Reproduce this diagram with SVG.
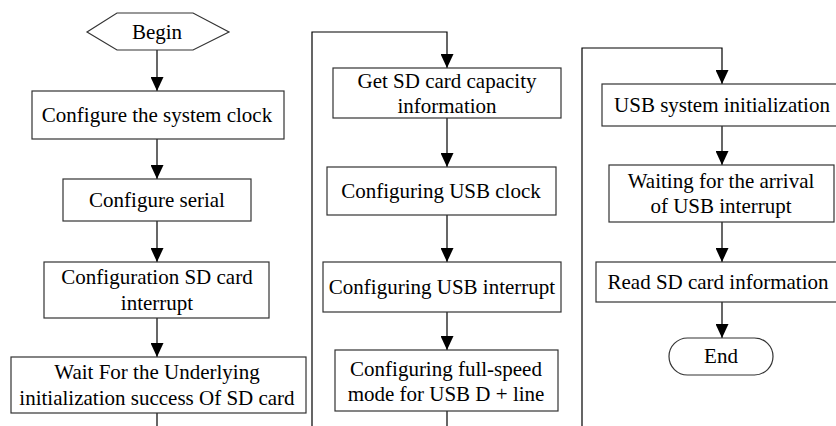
<svg xmlns="http://www.w3.org/2000/svg" width="836" height="426" viewBox="0 0 836 426">
<defs>
<marker id="ah" markerUnits="userSpaceOnUse" viewBox="0 0 14 13" refX="14" refY="6.5" markerWidth="14" markerHeight="13" orient="auto">
<path d="M0,0 L14,6.5 L0,13 z" fill="#000"/>
</marker>
<style>
.box{fill:#fff;stroke:#333;stroke-width:1.2}
.t{font-family:'Liberation Serif',Tinos,'Times New Roman',Times,'DejaVu Serif',serif;font-size:21px;fill:#000;text-anchor:middle}
.c{fill:none;stroke:#000;stroke-width:1.2}
</style>
</defs>
<rect width="836" height="426" fill="#fff"/>
<g id="connectors">
<line class="c" x1="157" y1="50" x2="157" y2="91" marker-end="url(#ah)"/>
<line class="c" x1="157" y1="139" x2="157" y2="179" marker-end="url(#ah)"/>
<line class="c" x1="157" y1="221" x2="157" y2="262" marker-end="url(#ah)"/>
<line class="c" x1="157" y1="318" x2="157" y2="357" marker-end="url(#ah)"/>
<line class="c" x1="157" y1="413" x2="157" y2="427"/>
<polyline class="c" points="312,427 312,32 447,32 447,68" marker-end="url(#ah)"/>
<line class="c" x1="447" y1="118" x2="447" y2="167" marker-end="url(#ah)"/>
<line class="c" x1="447" y1="215" x2="447" y2="262" marker-end="url(#ah)"/>
<line class="c" x1="447" y1="312" x2="447" y2="350" marker-end="url(#ah)"/>
<line class="c" x1="447" y1="411" x2="447" y2="427"/>
<polyline class="c" points="582,427 582,48 722,48 722,84" marker-end="url(#ah)"/>
<line class="c" x1="722" y1="126" x2="722" y2="165" marker-end="url(#ah)"/>
<line class="c" x1="722" y1="222" x2="722" y2="262" marker-end="url(#ah)"/>
<line class="c" x1="722" y1="302" x2="722" y2="338" marker-end="url(#ah)"/>
</g>
<g id="begin">
<polygon class="box" points="87,32 117,13 193,13 229,32 193,50 117,50"/>
<text class="t" x="157" y="39">Begin</text>
</g>
<g id="sysclock">
<rect class="box" x="32" y="91" width="252" height="48"/>
<text class="t" x="157" y="122">Configure the system clock</text>
</g>
<g id="serial">
<rect class="box" x="63" y="179" width="188" height="42"/>
<text class="t" x="157" y="207">Configure serial</text>
</g>
<g id="sdint">
<rect class="box" x="44" y="262" width="225" height="56"/>
<text class="t" x="157" y="284">Configuration SD card</text>
<text class="t" x="157" y="310">interrupt</text>
</g>
<g id="waitsd">
<rect class="box" x="11" y="357" width="295" height="56"/>
<text class="t" x="157" y="379">Wait For the Underlying</text>
<text class="t" x="157" y="405">initialization success Of SD card</text>
</g>
<g id="capacity">
<rect class="box" x="333" y="68" width="228" height="50"/>
<text class="t" x="447" y="88">Get SD card capacity</text>
<text class="t" x="447" y="113">information</text>
</g>
<g id="usbclock">
<rect class="box" x="327" y="167" width="229" height="48"/>
<text class="t" x="441" y="198">Configuring USB clock</text>
</g>
<g id="usbint">
<rect class="box" x="323" y="262" width="238" height="50"/>
<text class="t" x="442" y="294">Configuring USB interrupt</text>
</g>
<g id="fullspeed">
<rect class="box" x="335" y="350" width="223" height="61"/>
<text class="t" x="446" y="376">Configuring full-speed</text>
<text class="t" x="446" y="401">mode for USB D + line</text>
</g>
<g id="usbinit">
<rect class="box" x="602" y="84" width="240" height="42"/>
<text class="t" x="722" y="112">USB system initialization</text>
</g>
<g id="waitusb">
<rect class="box" x="609" y="165" width="225" height="57"/>
<text class="t" x="721" y="188">Waiting for the arrival</text>
<text class="t" x="721" y="213">of USB interrupt</text>
</g>
<g id="readsd">
<rect class="box" x="596" y="262" width="246" height="40"/>
<text class="t" x="718" y="289">Read SD card information</text>
</g>
<g id="end">
<rect class="box" x="669" y="338" width="104" height="37" rx="18.5" ry="18.5"/>
<text class="t" x="721" y="363">End</text>
</g>
</svg>
